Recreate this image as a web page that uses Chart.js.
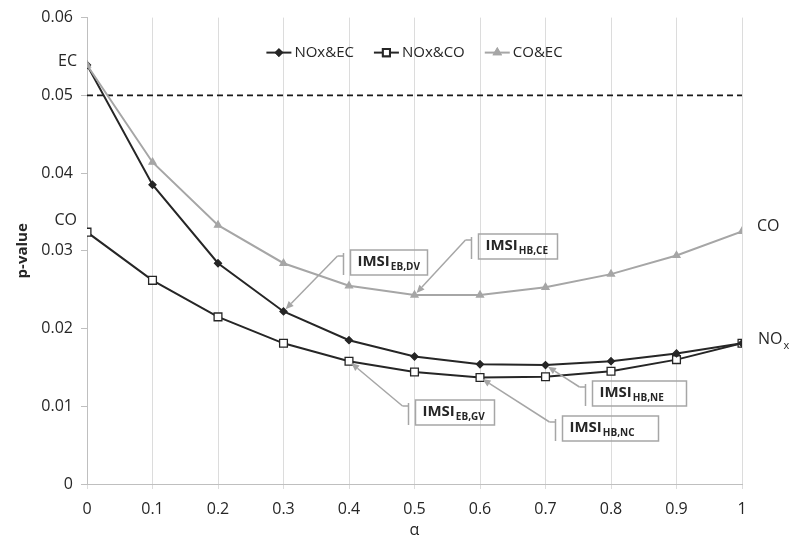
<!DOCTYPE html>
<html>
<head>
<meta charset="utf-8">
<script src="https://cdn.jsdelivr.net/npm/chart.js@4"></script>
<style>
  html, body { margin: 0; background: #fff; }
  #wrap { width: 800px; height: 549px; }
</style>
</head>
<body>
<div id="wrap"><canvas id="canva"></canvas></div>
<script>
const alphas = [0, 0.1, 0.2, 0.3, 0.4, 0.5, 0.6, 0.7, 0.8, 0.9, 1];
const noxEc = [0.0539, 0.0385, 0.0284, 0.0222, 0.0185, 0.0164, 0.0154, 0.0153, 0.0158, 0.0168, 0.0181];
const noxCo = [0.0324, 0.0262, 0.0215, 0.0181, 0.0158, 0.0144, 0.0137, 0.0138, 0.0145, 0.0160, 0.0181];
const coEc = [0.0539, 0.0414, 0.0333, 0.0284, 0.0255, 0.0243, 0.0243, 0.0253, 0.0270, 0.0294, 0.0325];
const threshold = 0.05;
const xTickValues = [0, 0.1, 0.2, 0.3, 0.4, 0.5, 0.6, 0.7, 0.8, 0.9, 1];
const yTickValues = [0, 0.01, 0.02, 0.03, 0.04, 0.05, 0.06];

const DARK = "#262626";
const GREY = "#a6a6a6";
const FONT = "'Open Sans', 'Liberation Sans', sans-serif";

// callouts: which point they point at, and where the bracket sits (data units)
const callouts = [
  { sub: "EB,DV", values: noxEc, index: 3, x: 0.391, y: 0.0297, w: 77 },
  { sub: "HB,CE", values: coEc, index: 5, x: 0.586, y: 0.0318, w: 79 },
  { sub: "EB,GV", values: noxCo, index: 4, x: 0.490, y: 0.0104, w: 79 },
  { sub: "HB,NC", values: noxCo, index: 6, x: 0.7145, y: 0.0084, w: 96 },
  { sub: "HB,NE", values: noxEc, index: 7, x: 0.760, y: 0.0129, w: 94 },
];

const pts = (vals) => alphas.map((a, i) => ({ x: a, y: vals[i] }));

const seriesStyle = [
  { label: "NOx&EC", color: DARK, pointStyle: "rectRot", radius: 3.5, fill: DARK },
  { label: "NOx&CO", color: DARK, pointStyle: "rect", radius: 5.5, fill: "#fff" },
  { label: "CO&EC", color: GREY, pointStyle: "triangle", radius: 4, fill: GREY },
];

function drawArrow(ctx, x0, y0, x1, y1) {
  const ang = Math.atan2(y1 - y0, x1 - x0);
  const ex = x1 - Math.cos(ang) * 3;
  const ey = y1 - Math.sin(ang) * 3;
  const bx = ex - Math.cos(ang) * 8;
  const by = ey - Math.sin(ang) * 8;
  ctx.beginPath();
  ctx.moveTo(x0, y0);
  ctx.lineTo(bx, by);
  ctx.stroke();
  ctx.beginPath();
  ctx.moveTo(ex, ey);
  ctx.lineTo(bx + Math.sin(ang) * 3.5, by - Math.cos(ang) * 3.5);
  ctx.lineTo(bx - Math.sin(ang) * 3.5, by + Math.cos(ang) * 3.5);
  ctx.closePath();
  ctx.fill();
}

const extras = {
  id: "extras",
  afterDatasetsDraw(chart) {
    const ctx = chart.ctx;
    const xs = chart.scales.x;
    const ys = chart.scales.y;
    const area = chart.chartArea;
    ctx.save();

    // end labels
    ctx.fillStyle = DARK;
    ctx.font = "16px " + FONT;
    ctx.textBaseline = "middle";
    ctx.textAlign = "right";
    ctx.fillText("EC", xs.getPixelForValue(0) - 10, ys.getPixelForValue(noxEc[0]) - 4);
    ctx.fillText("CO", xs.getPixelForValue(0) - 10, ys.getPixelForValue(noxCo[0]) - 12);
    ctx.textAlign = "left";
    ctx.fillText("CO", xs.getPixelForValue(1) + 15, ys.getPixelForValue(coEc[10]) - 5);
    const nx = xs.getPixelForValue(1) + 16;
    const ny = ys.getPixelForValue(noxCo[10]) - 4;
    ctx.fillText("NO", nx, ny);
    const nw = ctx.measureText("NO").width;
    ctx.font = "11px " + FONT;
    ctx.fillText("x", nx + nw + 1, ny + 7);

    // callouts
    callouts.forEach((c) => {
      const tx = xs.getPixelForValue(alphas[c.index]);
      const ty = ys.getPixelForValue(c.values[c.index]);
      const bx = Math.round(xs.getPixelForValue(c.x)) + 0.5;
      const by = Math.round(ys.getPixelForValue(c.y));
      ctx.strokeStyle = GREY;
      ctx.fillStyle = GREY;
      ctx.lineWidth = 1.5;
      ctx.beginPath();
      ctx.moveTo(bx, by);
      ctx.lineTo(bx, by + 22);
      ctx.moveTo(bx, by + 3);
      ctx.lineTo(bx - 6, by + 3);
      ctx.stroke();
      drawArrow(ctx, bx - 6, by + 3, tx, ty);

      const rx = bx + 7;
      const ry = by - 3;
      ctx.lineWidth = 1.5;
      ctx.strokeRect(rx, ry, c.w, 25);
      ctx.fillStyle = DARK;
      ctx.textAlign = "left";
      ctx.font = "bold 15px " + FONT;
      ctx.fillText("IMSI", rx + 7, ry + 12);
      const iw = ctx.measureText("IMSI").width;
      ctx.font = "bold 10px " + FONT;
      ctx.fillText(c.sub, rx + 7 + iw + 1, ry + 17);
    });

    // legend
    ctx.font = "15px " + FONT;
    const sample = 25;
    const gap = 20;
    const widths = seriesStyle.map((s) => sample + 3 + ctx.measureText(s.label).width);
    const total = widths.reduce((a, b) => a + b, 0) + gap * (widths.length - 1);
    let lx = (area.left + area.right) / 2 - total / 2;
    const ly = area.top + 35;
    seriesStyle.forEach((s, i) => {
      ctx.strokeStyle = s.color;
      ctx.lineWidth = 2;
      ctx.beginPath();
      ctx.moveTo(lx, ly);
      ctx.lineTo(lx + sample, ly);
      ctx.stroke();
      Chart.helpers.drawPoint(ctx, {
        pointStyle: s.pointStyle,
        radius: s.radius - 0.5,
        rotation: 0,
        borderWidth: 1.3,
      }, lx + sample / 2, ly);
      ctx.fillStyle = s.fill;
      ctx.strokeStyle = s.color;
      ctx.fill();
      ctx.stroke();
      ctx.fillStyle = DARK;
      ctx.textAlign = "left";
      ctx.fillText(s.label, lx + sample + 3, ly);
      lx += widths[i] + gap;
    });
    ctx.restore();
  },
};

const canvas = document.getElementById("canva");
const ctx = canvas.getContext("2d");

let myChart = new Chart(ctx, {
  type: "line",
  data: {
    datasets: [
      {
        label: "threshold",
        data: [{ x: 0, y: threshold }, { x: 1, y: threshold }],
        borderColor: "#1a1a1a",
        borderWidth: 1.8,
        borderDash: [6, 4],
        pointRadius: 0,
        order: 4,
      },
      ...seriesStyle.map((s, i) => ({
        label: s.label,
        data: pts([noxEc, noxCo, coEc][i]),
        borderColor: s.color,
        borderWidth: 2,
        pointStyle: s.pointStyle,
        pointRadius: s.radius,
        pointBackgroundColor: s.fill,
        pointBorderColor: s.color,
        pointBorderWidth: 1.3,
        order: [1, 2, 0][i],
      })),
    ],
  },
  options: {
    responsive: true,
    maintainAspectRatio: false,
    animation: false,
    layout: { padding: { top: 15, right: 58, left: 0, bottom: 0 } },
    plugins: {
      legend: { display: false },
      tooltip: { enabled: false },
    },
    scales: {
      x: {
        type: "linear",
        min: 0,
        max: 1,
        afterBuildTicks: (s) => { s.ticks = xTickValues.map((v) => ({ value: v })); },
        afterFit: (s) => { s.height = 65; },
        ticks: {
          color: DARK,
          font: { size: 16, family: FONT },
          padding: 11,
          maxRotation: 0,
          callback: (v) => String(parseFloat(v.toFixed(2))),
        },
        grid: { color: "#dcdcdc", tickLength: 5, lineWidth: 1 },
        border: { color: "#bfbfbf" },
        title: {
          display: true,
          text: "α",
          color: DARK,
          font: { size: 16, family: FONT },
          padding: { top: 0, bottom: 9 },
        },
      },
      y: {
        min: 0,
        max: 0.06,
        afterBuildTicks: (s) => { s.ticks = yTickValues.map((v) => ({ value: v })); },
        afterFit: (s) => { s.width = 87; },
        ticks: {
          color: DARK,
          font: { size: 16, family: FONT },
          padding: 8,
          callback: (v) => (v === 0 ? "0" : v.toFixed(2)),
        },
        grid: { drawOnChartArea: false, color: "#bfbfbf", tickLength: 6 },
        border: { color: "#bfbfbf" },
        title: {
          display: true,
          text: "p-value",
          color: DARK,
          font: { size: 15, family: FONT, weight: "bold" },
          padding: { top: 14, bottom: 0 },
        },
      },
    },
  },
  plugins: [extras],
});
</script>
</body>
</html>
